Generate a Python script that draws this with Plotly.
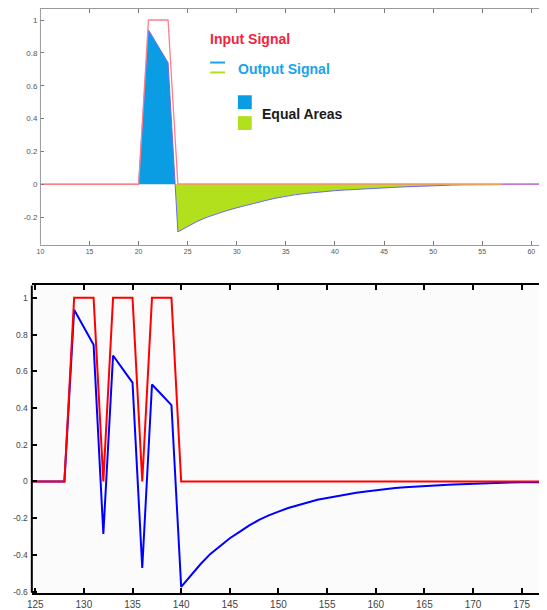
import numpy as np
import plotly.graph_objects as go

# ---------------- data: top panel (single pulse) ----------------
top_x = [10, 20, 21, 22, 23, 24, 25, 26, 27, 28, 29, 30, 31, 32, 33, 34, 35, 36, 37, 38, 39,
         40, 41, 42, 43, 44, 45, 46, 47, 48, 49, 50, 51, 52, 53, 54, 55, 56, 57, 58, 59, 60, 61, 62]
top_input = [0, 0, 1, 1, 1, 0, 0, 0, 0, 0, 0, 0, 0, 0, 0, 0, 0, 0, 0, 0, 0,
             0, 0, 0, 0, 0, 0, 0, 0, 0, 0, 0, 0, 0, 0, 0, 0, 0, 0, 0, 0, 0, 0, 0]
top_output = [0, 0, 0.94, 0.84, 0.74, -0.29, -0.255, -0.225, -0.2, -0.178, -0.16, -0.143,
              -0.127, -0.112, -0.098, -0.084, -0.072, -0.063, -0.056, -0.049, -0.044,
              -0.039, -0.035, -0.031, -0.028, -0.025, -0.022, -0.019, -0.016, -0.013, -0.011,
              -0.009, -0.007, -0.005, -0.004, -0.003, -0.002, -0.001, 0, 0, 0, 0, 0, 0]
top_xticks = [10, 15, 20, 25, 30, 35, 40, 45, 50, 55, 60]
top_xticklabels = ["10", "15", "20", "25", "30", "35", "40", "45", "50", "55", "60"]
top_yticks = [-0.2, 0, 0.2, 0.4, 0.6, 0.8, 1]
top_yticklabels = ["-0.2", "0", "0.2", "0.4", "0.6", "0.8", "1"]

# ---------------- data: bottom panel (pulse train) ----------------
bot_x = list(range(124, 179))
bot_input = [0, 0, 0, 0, 0, 1, 1, 1, 0, 1, 1, 1, 0, 1, 1, 1, 0,
             0, 0, 0, 0, 0, 0, 0, 0, 0, 0, 0, 0, 0, 0, 0, 0, 0, 0, 0, 0, 0, 0,
             0, 0, 0, 0, 0, 0, 0, 0, 0, 0, 0, 0, 0, 0, 0, 0]
bot_output = [0, 0, 0, 0, 0, 0.935, 0.84, 0.744, -0.287, 0.686, 0.612, 0.538, -0.472,
              0.528, 0.472, 0.416, -0.575, -0.51, -0.45, -0.395, -0.35, -0.31, -0.275,
              -0.24, -0.21, -0.185, -0.165, -0.145, -0.13, -0.115, -0.1, -0.09, -0.08,
              -0.07, -0.062, -0.055, -0.048, -0.042, -0.036, -0.032, -0.028, -0.025,
              -0.022, -0.019, -0.017, -0.015, -0.013, -0.011, -0.006, -0.005, -0.005,
              -0.004, -0.004, -0.004, -0.004]
bot_xticks = [125, 130, 135, 140, 145, 150, 155, 160, 165, 170, 175]
bot_xticklabels = ["125", "130", "135", "140", "145", "150", "155", "160", "165", "170", "175"]
bot_yticks = [-0.6, -0.4, -0.2, 0, 0.2, 0.4, 0.6, 0.8, 1]
bot_yticklabels = ["-0.6", "-0.4", "-0.2", "0", "0.2", "0.4", "0.6", "0.8", "1"]

legend_labels = ["Input Signal", "Output Signal", "Equal Areas"]

# ---------------- derived fill polygons (from the data) ----------------
tx = np.array(top_x, dtype=float)
ty = np.array(top_output, dtype=float)
i_neg = int(np.argmax(ty < 0))            # first negative sample
x_cross = tx[i_neg - 1] + ty[i_neg - 1] / (ty[i_neg - 1] - ty[i_neg]) * (tx[i_neg] - tx[i_neg - 1])
i_start = int(np.argmax(ty > 0)) - 1
pos_x = list(tx[i_start:i_neg]) + [x_cross]
pos_y = list(ty[i_start:i_neg]) + [0.0]
neg_x = [x_cross] + list(tx[i_neg:])
neg_y = [0.0] + list(ty[i_neg:])

# the page body has an 8px margin: lay the figure out so that it lands on the window
OFF = 8
W, H = 547 - OFF, 610 - OFF
def px(x):
    return (x - OFF) / W
def py(y):
    return 1 - (y - OFF) / H

BLUE = "#0b9de3"
GREEN = "#b3e01c"

fig = go.Figure()

# top panel
fig.add_trace(go.Scatter(x=pos_x, y=pos_y, mode="lines", fill="tozeroy", fillcolor=BLUE,
                         line=dict(width=0, color=BLUE), xaxis="x", yaxis="y", showlegend=False,
                         hoverinfo="skip"))
fig.add_trace(go.Scatter(x=neg_x, y=neg_y, mode="lines", fill="tozeroy", fillcolor=GREEN,
                         line=dict(width=0, color=GREEN), xaxis="x", yaxis="y", showlegend=False,
                         hoverinfo="skip"))
fig.add_trace(go.Scatter(x=top_x, y=top_output, mode="lines", line=dict(color="#6a6af5", width=1),
                         xaxis="x", yaxis="y", showlegend=False))
fig.add_trace(go.Scatter(x=top_x, y=top_input, mode="lines", line=dict(color="#ff7f86", width=1.3),
                         xaxis="x", yaxis="y", showlegend=False))
i24 = top_x.index(24)
i57 = top_x.index(57)
fig.add_trace(go.Scatter(x=top_x[i24:i57 + 1], y=top_input[i24:i57 + 1], mode="lines",
                         line=dict(color="#eba05a", width=1.3), xaxis="x", yaxis="y", showlegend=False))
fig.add_trace(go.Scatter(x=top_x[i57:], y=top_input[i57:], mode="lines",
                         line=dict(color="#c47ad0", width=1.3), xaxis="x", yaxis="y", showlegend=False))

# bottom panel
fig.add_trace(go.Scatter(x=bot_x, y=bot_output, mode="lines", line=dict(color="#0000ff", width=2),
                         xaxis="x2", yaxis="y2", showlegend=False))
fig.add_trace(go.Scatter(x=bot_x, y=bot_input, mode="lines", line=dict(color="#ff0000", width=2),
                         xaxis="x2", yaxis="y2", showlegend=False))

tick_font = "Liberation Sans, Arial"
narrow_font = "Liberation Sans Narrow, Arial Narrow, Liberation Sans"
top_x_axis = dict(showline=True, linecolor="#9a9a9a", linewidth=1, mirror="ticks",
                  ticks="inside", ticklen=4, tickcolor="#7a7a7a", tickwidth=1,
                  showgrid=False, zeroline=False,
                  tickfont=dict(family=tick_font, size=7, color="#555"))
top_y_axis = dict(top_x_axis, showline=False, ticklabelstandoff=2,
                  tickfont=dict(family=tick_font, size=8, color="#555"))
bot_x_axis = dict(showline=True, linecolor="#000", linewidth=2, mirror="ticks",
                  ticks="inside", ticklen=5, tickcolor="#000", tickwidth=1.5,
                  showgrid=False, zeroline=False, ticklabelstandoff=1,
                  tickfont=dict(family=tick_font, size=10, color="#444"))
bot_y_axis = dict(bot_x_axis, showline=False, ticklabelstandoff=3,
                  tickfont=dict(family=narrow_font, size=8.5, color="#444"))

fig.update_layout(
    width=W, height=H,
    margin=dict(l=0, r=0, t=0, b=0),
    paper_bgcolor="white", plot_bgcolor="rgba(0,0,0,0)",
    xaxis=dict(domain=[px(35.7), 1], range=[10, 61.6], anchor="y",
               tickvals=top_xticks, ticktext=top_xticklabels, **top_x_axis),
    yaxis=dict(domain=[py(246.7), py(9)], range=[-0.368, 1.067], anchor="x",
               tickvals=top_yticks, ticktext=top_yticklabels, **top_y_axis),
    xaxis2=dict(domain=[px(27), 1], range=[124.65, 177.6], anchor="y2",
                tickvals=bot_xticks, ticktext=bot_xticklabels, **bot_x_axis),
    yaxis2=dict(domain=[py(597.7), py(287.7)], range=[-0.607, 1.068], anchor="x2",
                tickvals=bot_yticks, ticktext=bot_yticklabels, **bot_y_axis),
)

shapes = [
    dict(type="rect", xref="x2 domain", yref="y2 domain", x0=0, x1=1, y0=0, y1=1,
         fillcolor="#fbfbfb", line=dict(width=0), layer="below"),
    # left frame lines (the right frame lies outside the picture)
    dict(type="line", xref="x domain", yref="y domain", x0=0, x1=0, y0=0, y1=1,
         line=dict(color="#9a9a9a", width=1)),
    dict(type="line", xref="x2 domain", yref="y2 domain", x0=0, x1=0, y0=0, y1=1,
         line=dict(color="#000", width=2)),
    # legend icons
    dict(type="line", xref="paper", yref="paper", x0=px(207), x1=px(222), y0=py(63), y1=py(63),
         line=dict(color="#1aa3ec", width=2)),
    dict(type="line", xref="paper", yref="paper", x0=px(207), x1=px(222), y0=py(73), y1=py(73),
         line=dict(color=GREEN, width=2)),
    dict(type="rect", xref="paper", yref="paper", x0=px(235), x1=px(249), y0=py(110), y1=py(96),
         fillcolor=BLUE, line=dict(width=0)),
    dict(type="rect", xref="paper", yref="paper", x0=px(235), x1=px(249), y0=py(131), y1=py(117),
         fillcolor=GREEN, line=dict(width=0)),
]
fig.update_layout(shapes=shapes)

font_b = "Liberation Sans, Arial"
fig.add_annotation(x=px(205), y=py(39.5), xref="paper", yref="paper", text="<b>" + legend_labels[0] + "</b>",
                   showarrow=False, xanchor="left", yanchor="middle",
                   font=dict(family=font_b, size=14, color="#f2233c"))
fig.add_annotation(x=px(233.5), y=py(69.5), xref="paper", yref="paper", text="<b>" + legend_labels[1] + "</b>",
                   showarrow=False, xanchor="left", yanchor="middle",
                   font=dict(family=font_b, size=14, color="#1aa3ec"))
fig.add_annotation(x=px(257), y=py(114.5), xref="paper", yref="paper", text="<b>" + legend_labels[2] + "</b>",
                   showarrow=False, xanchor="left", yanchor="middle",
                   font=dict(family=font_b, size=14, color="#1a1a1a"))

fig.write_html("out.html")
